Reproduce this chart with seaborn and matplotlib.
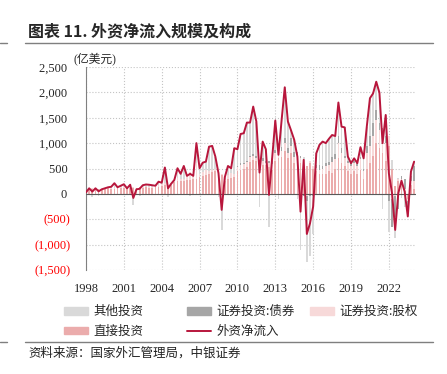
import numpy as np
import matplotlib
matplotlib.use("Agg")
import matplotlib.pyplot as plt
import seaborn as sns
from matplotlib.lines import Line2D
from matplotlib.patches import Patch

sns.set_theme(style="white")
plt.rcParams["font.family"] = ["Liberation Serif", "Noto Sans CJK SC", "DejaVu Sans"]
plt.rcParams["axes.unicode_minus"] = False

CJK = ["Noto Sans CJK SC", "DejaVu Sans"]

# 季度数据 1998Q1 - 2024Q1，单位：亿美元
years = [str(y) for y in range(1998, 2023, 3)]

net_inflow = [30, 110, 45, 110, 50, 90, 110, 130, 140, 210, 130, 160,
              190, 110, 180, -80, 90, 100, 170, 185, 180, 170, 160, 240,
              220, 520, 110, 200, 275, 505, 395, 550, 355, 395, 355, 1000,
              505, 615, 635, 930, 945, 735, 405, -315, 330, 550, 505, 900,
              880, 1180, 1195, 1405, 1405, 1720, 1425, 420, 1030, 880, -20, 700,
              1445, 770, 1450, 2100, 1425, 1250, 1065, 735, -350, 670, -790, -580,
              -250, 800, 965, 1030, 1000, 1085, 1160, 1140, 1800, 1325, 1310, 735,
              605, 700, 605, 920, 700, 1325, 1885, 1980, 2210, 1995, 1000, 1555,
              405, 15, -710, 15, 260, 45, -445, 440, 635]

fdi = [100, 110, 100, 110, 90, 100, 100, 110, 100, 100, 110, 120,
       110, 120, 110, 120, 110, 130, 120, 130, 120, 120, 130, 140,
       150, 170, 150, 170, 230, 250, 250, 260, 270, 280, 290, 300,
       330, 360, 380, 400, 430, 460, 450, 380, 250, 300, 320, 330,
       450, 480, 500, 520, 620, 660, 640, 580, 560, 560, 530, 480,
       650, 700, 720, 850, 700, 800, 600, 550, 600, 500, 550, 600,
       500, 450, 400, 400, 400, 450, 420, 500, 700, 600, 550, 450,
       400, 450, 400, 480, 300, 500, 600, 750, 1000, 900, 800, 650,
       950, 500, 150, 250, 200, 50, -100, 180, 100]

equity = [10, 5, 10, 5, 10, 5, 10, 15, 10, 20, 10, 15,
          20, 10, 15, 10, 10, 5, 10, 15, 20, 25, 30, 40,
          40, 50, 30, 40, 50, 60, 50, 40, 80, 150, 60, 300,
          60, 80, 100, 60, 40, 30, 20, 10, 30, 80, 100, 60,
          80, 90, 80, 100, 100, 90, 60, 70, 90, 50, 70, 100,
          150, 100, 120, 150, 100, 150, 120, 200, 100, 150, -50, 50,
          50, 60, 80, 100, 150, 120, 200, 180, 300, 200, 150, 150,
          150, 150, 150, 200, 150, 300, 350, 400, 450, 350, 300, 350,
          200, -100, -50, 50, 100, 50, -50, 80, 150]

bond = [0] * 48 + [
    20, 30, 20, 30, 30, 40, 50, 20, 50, 30, 40, 60,
    60, 70, 80, 100, 100, 150, 100, 80, 50, -50, -100, -50,
    -50, 50, 80, 50, 50, 50, 100, 100, 150, 100, 50, 50,
    50, 50, 50, 50, 50, 150, 200, 250, 200, 150, 200, 150,
    -150, -550, -400, -300, 50, 200, -100, 100, 300]

other = [-80, -5, -65, -5, -50, -15, 0, 5, 30, 90, 10, 25,
         60, -20, 55, -210, -30, -35, 40, 40, 40, 25, 0, 60,
         30, 300, -70, -10, -5, 195, 95, 250, 5, -35, 5, 400,
         115, 175, 155, 470, 475, 245, -65, -705, 50, 170, 85, 510,
         330, 580, 595, 755, 655, 930, 675, -250, 330, 240, -660, 60,
         585, -100, 530, 1000, 525, 150, 245, -95, -1100, 70, -1190, -1180,
         -750, 240, 405, 480, 400, 465, 440, 360, 650, 425, 560, 85,
         5, 50, 5, 190, 200, 375, 735, 580, 560, 595, -300, 405,
         -595, 165, -410, 15, -90, -255, -195, 80, 85]

colors = {"other": "#D9D9D9", "bond": "#A6A6A6", "equity": "#F7D9D9",
          "fdi": "#EBACAC", "net": "#B8163C"}

fig = plt.figure(figsize=(4.47, 3.74), dpi=100)
ax = fig.add_axes([86 / 447, 1 - 270 / 374, 330 / 447, 203 / 374])

n = len(net_inflow)
x = np.arange(n)
pos_base = np.zeros(n)
neg_base = np.zeros(n)
stack = [("直接投资", fdi, colors["fdi"]),
         ("证券投资:股权", equity, colors["equity"]),
         ("证券投资:债券", bond, colors["bond"]),
         ("其他投资", other, colors["other"])]
for name, vals, c in stack:
    v = np.array(vals, dtype=float)
    bottom = np.where(v >= 0, pos_base, neg_base)
    ax.bar(x, v, width=0.55, bottom=bottom, color=c, linewidth=0, zorder=2)
    pos_base += np.clip(v, 0, None)
    neg_base += np.clip(v, None, 0)

sns.lineplot(x=x, y=net_inflow, color=colors["net"], linewidth=1.4, ax=ax, zorder=4)
ax.axhline(0, color="#595959", linewidth=0.8, zorder=3)

ax.set_xlim(0, 104.6)
ax.set_ylim(-1500, 2500)
ax.set_xticks(np.arange(0, n, 12))
ax.set_xticklabels(years, fontsize=9)
yt = np.arange(-1500, 2501, 500)
ax.set_yticks(yt)
ylabels = [f"({abs(v):,})" if v < 0 else f"{v:,} " for v in yt]
ax.set_yticklabels(ylabels, fontsize=9)
for lab, v in zip(ax.get_yticklabels(), yt):
    if v < 0:
        lab.set_color("#FF0000")
ax.tick_params(axis="y", direction="out", length=3, width=0.8, color="#808080", pad=8)
ax.tick_params(axis="x", length=0, pad=9)
ax.grid(True, linestyle=":", color="#C4C4C4", linewidth=0.8, zorder=0)
for s in ["top", "right", "bottom"]:
    ax.spines[s].set_visible(False)
ax.spines["left"].set_color("#808080")
ax.spines["left"].set_linewidth(0.8)

fig.text(73 / 447, 1 - 59 / 374, "(亿美元)", fontsize=8.5, va="center", ha="left")

# 标题与分隔线
fig.text(28 / 447, 1 - 31 / 374, "图表 11. 外资净流入规模及构成", fontsize=11.5,
         fontweight="bold", family=CJK, va="center", ha="left")
for yy in [43, 342]:
    fig.add_artist(Line2D([25 / 447, 433 / 447], [1 - yy / 374] * 2, color="#7F7F7F", lw=1))
    fig.add_artist(Line2D([0, 7 / 447], [1 - yy / 374] * 2, color="#7F7F7F", lw=1))
fig.text(28 / 447, 1 - 353 / 374, "资料来源：国家外汇管理局，中银证券", fontsize=9,
         family=CJK, style="italic", va="center", ha="left", color="#222222")

# 图例
h_other = Patch(color=colors["other"], label="其他投资")
h_fdi = Patch(color=colors["fdi"], label="直接投资")
h_bond = Patch(color=colors["bond"], label="证券投资:债券")
h_net = Line2D([], [], color=colors["net"], lw=1.4, label="外资净流入")
h_eq = Patch(color=colors["equity"], label="证券投资:股权")
leg_kw = dict(loc="upper left", frameon=False, borderpad=0, handlelength=1.9,
              handleheight=0.55, handletextpad=0.45, labelspacing=0.55,
              prop={"family": CJK, "size": 9})
for handles, xl in [([h_other, h_fdi], 58), ([h_bond, h_net], 181), ([h_eq], 304)]:
    fig.legend(handles=handles, bbox_to_anchor=(xl / 447, 1 - 299 / 374), **leg_kw)

fig.savefig("out.png", dpi=100)
